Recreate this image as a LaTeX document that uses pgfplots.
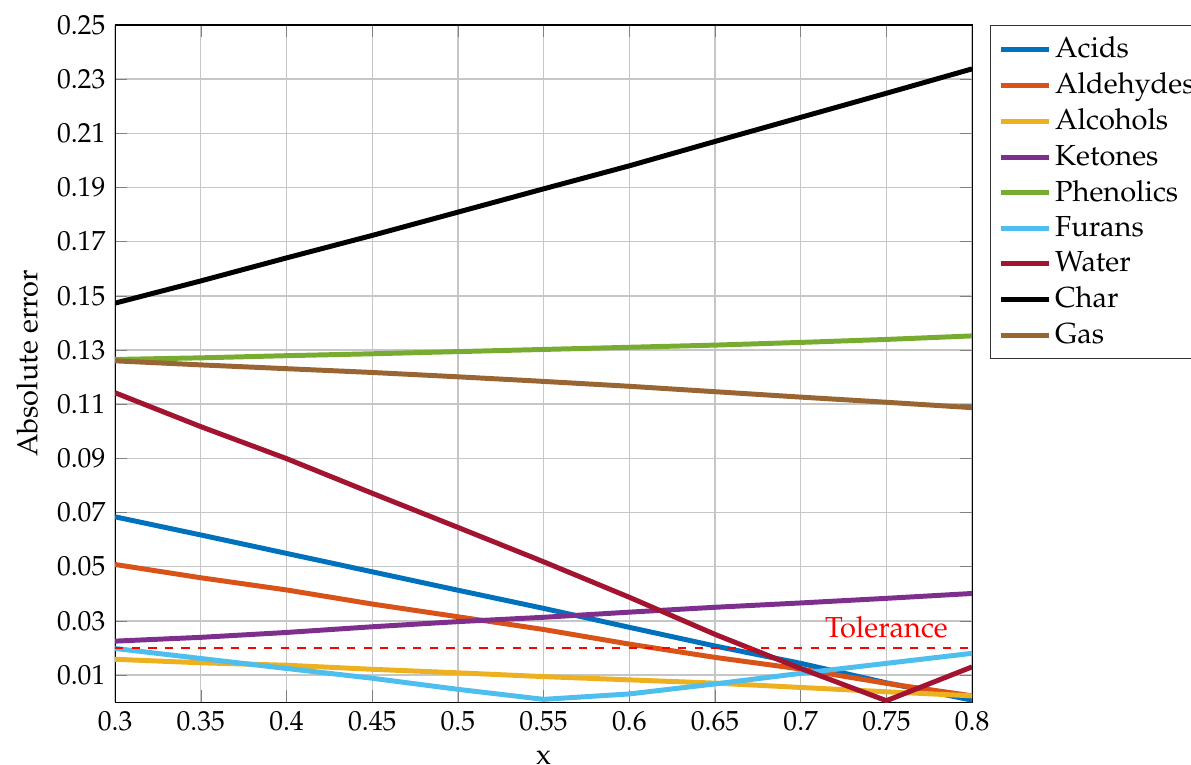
\documentclass[border=0pt]{standalone}
\usepackage[T1]{fontenc}
\usepackage{palatino}
\usepackage{pgfplots}
\pgfplotsset{compat=1.18}
\usetikzlibrary{calc}
\definecolor{cA}{rgb}{0,0.447,0.741}
\definecolor{cB}{rgb}{0.85,0.325,0.098}
\definecolor{cC}{rgb}{0.929,0.694,0.125}
\definecolor{cD}{rgb}{0.494,0.184,0.556}
\definecolor{cE}{rgb}{0.466,0.674,0.188}
\definecolor{cF}{rgb}{0.301,0.745,0.933}
\definecolor{cG}{rgb}{0.635,0.078,0.184}
\definecolor{cH}{rgb}{0,0,0}
\definecolor{cI}{rgb}{0.6,0.4,0.2}
\definecolor{tol}{rgb}{1,0,0}
\newcommand{\txt}{\fontsize{10.5}{12.6}\selectfont}
\begin{document}
\begin{tikzpicture}
\begin{axis}[
  name=main,
  scale only axis,
  width=310.5pt, height=245.3pt,
  xmin=0.3, xmax=0.8, ymin=0, ymax=0.25,
  xtick={0.3,0.35,0.4,0.45,0.5,0.55,0.6,0.65,0.7,0.75,0.8},
  xticklabels={0.3,0.35,0.4,0.45,0.5,0.55,0.6,0.65,0.7,0.75,0.8},
  ytick={0.01,0.03,0.05,0.07,0.09,0.11,0.13,0.15,0.17,0.19,0.21,0.23,0.25},
  yticklabels={0.01,0.03,0.05,0.07,0.09,0.11,0.13,0.15,0.17,0.19,0.21,0.23,0.25},
  scaled y ticks=false, scaled x ticks=false,
  grid=major,
  major grid style={gray!45, line width=0.5pt},
  xlabel={x}, ylabel={Absolute error},
  label style={font=\txt},
  legend style={at={(1.021,1)}, anchor=north west, draw=black!80, font=\txt, nodes={inner xsep=1.5pt}},
  legend cell align=left,
  every axis plot/.append style={line width=1.8pt},
]
\addplot[cA] coordinates {(0.3,0.0684)(0.35,0.0617)(0.4,0.0549)(0.45,0.0481)(0.5,0.0413)(0.55,0.0346)(0.6,0.0276)(0.65,0.0207)(0.7,0.0143)(0.75,0.0071)(0.8,0.0007)};
\addlegendentry{Acids}
\addplot[cB] coordinates {(0.3,0.0508)(0.35,0.0459)(0.4,0.0414)(0.45,0.0362)(0.5,0.0315)(0.55,0.0268)(0.6,0.0214)(0.65,0.0165)(0.7,0.0122)(0.75,0.0069)(0.8,0.0023)};
\addlegendentry{Aldehydes}
\addplot[cC] coordinates {(0.3,0.0158)(0.35,0.0145)(0.4,0.0136)(0.45,0.0121)(0.5,0.0108)(0.55,0.0094)(0.6,0.0082)(0.65,0.0070)(0.7,0.0054)(0.75,0.0038)(0.8,0.0023)};
\addlegendentry{Alcohols}
\addplot[cD] coordinates {(0.3,0.0225)(0.35,0.0239)(0.4,0.0257)(0.45,0.0278)(0.5,0.0297)(0.55,0.0313)(0.6,0.0332)(0.65,0.0350)(0.7,0.0366)(0.75,0.0383)(0.8,0.0401)};
\addlegendentry{Ketones}
\addplot[cE] coordinates {(0.3,0.1265)(0.35,0.1271)(0.4,0.1279)(0.45,0.1286)(0.5,0.1294)(0.55,0.1302)(0.6,0.1310)(0.65,0.1318)(0.7,0.1328)(0.75,0.1339)(0.8,0.1352)};
\addlegendentry{Phenolics}
\addplot[cF] coordinates {(0.3,0.0198)(0.35,0.0161)(0.4,0.0124)(0.45,0.0088)(0.5,0.0047)(0.55,0.0010)(0.6,0.0030)(0.65,0.0067)(0.7,0.0106)(0.75,0.0143)(0.8,0.0180)};
\addlegendentry{Furans}
\addplot[cG] coordinates {(0.3,0.1142)(0.35,0.1017)(0.4,0.0899)(0.45,0.0771)(0.5,0.0645)(0.55,0.0518)(0.6,0.0387)(0.65,0.0250)(0.7,0.0124)(0.75,0.0005)(0.8,0.0130)};
\addlegendentry{Water}
\addplot[cH] coordinates {(0.3,0.1473)(0.35,0.1555)(0.4,0.1640)(0.45,0.1723)(0.5,0.1809)(0.55,0.1895)(0.6,0.1980)(0.65,0.2070)(0.7,0.2159)(0.75,0.2248)(0.8,0.2338)};
\addlegendentry{Char}
\addplot[cI] coordinates {(0.3,0.1260)(0.35,0.1245)(0.4,0.1231)(0.45,0.1217)(0.5,0.1201)(0.55,0.1184)(0.6,0.1166)(0.65,0.1146)(0.7,0.1126)(0.75,0.1107)(0.8,0.1087)};
\addlegendentry{Gas}
\addplot[draw=tol, color=tol, dashed, line width=0.45pt, forget plot] coordinates {(0.3,0.02)(0.8,0.02)};
\node[text=tol, anchor=south, font=\txt] at (axis cs:0.75,0.02) {Tolerance};
\end{axis}
\coordinate (BL) at ($(main.south west)+(-41.7pt,-22.5pt)$);
\coordinate (TR) at ($(main.north east)+(79.3pt,9.06pt)$);
\pgfresetboundingbox
\path[use as bounding box] (BL) rectangle (TR);
\end{tikzpicture}
\end{document}
